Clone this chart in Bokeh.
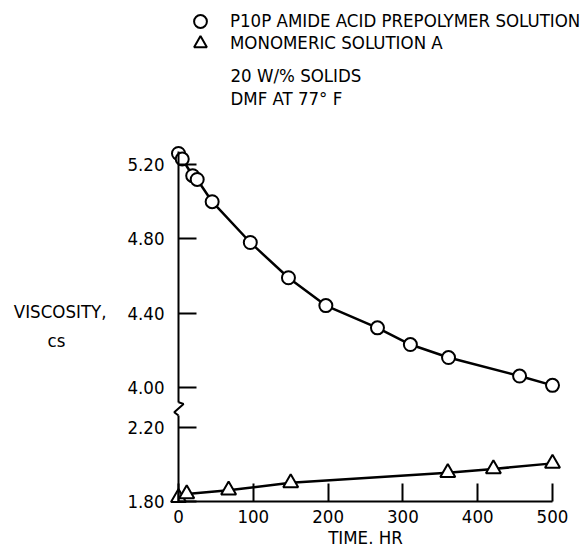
from bokeh.plotting import figure
from bokeh.models import LinearAxis, FixedTicker, Range1d, Legend, LegendItem, Label
from bokeh.embed import file_html
from bokeh.resources import INLINE

# ---------------- data ----------------
TIME_P10P = [0, 5, 19, 25, 45, 96, 147, 197, 266, 310, 361, 456, 500]
VISC_P10P = [5.26, 5.23, 5.14, 5.12, 5.00, 4.78, 4.59, 4.44, 4.32, 4.23, 4.16, 4.06, 4.01]
TIME_MONO = [0, 11, 67, 150, 360, 421, 500]
VISC_MONO = [1.82, 1.84, 1.86, 1.90, 1.955, 1.975, 2.005]

X_TICKS = [0, 100, 200, 300, 400, 500]
Y_TICKS_UPPER = [4.00, 4.40, 4.80, 5.20]
Y_TICKS_LOWER = [1.80, 2.20]
SERIES_LABELS = ["P10P AMIDE ACID PREPOLYMER SOLUTION", "MONOMERIC SOLUTION A"]
NOTES = ["20 W/% SOLIDS", "DMF AT 77\u00b0 F"]
Y_TITLE = ["VISCOSITY,", "cs"]
X_TITLE = "TIME. HR"

# ---------------- layout ----------------
W, H = 582, 547
PAGE = 0
X0_PX, PX_PER_HR = 178.0, 0.748
Y4_PX, PX_PER_CS = 386.7, 185.5
GAP_PX = 40.0
BREAK_OFFSET = (4.0 - GAP_PX / PX_PER_CS) - 2.20
FONT = "DejaVu Sans Condensed"
FS = "18.5px"


def x_of(px):
    return (px - X0_PX) / PX_PER_HR


def y_of(py):
    return 4.0 + (Y4_PX - py) / PX_PER_CS


p = figure(width=W, height=H, output_backend="svg", toolbar_location=None,
           x_range=Range1d(x_of(PAGE), x_of(PAGE + W)),
           y_range=Range1d(y_of(PAGE + H), y_of(PAGE)),
           x_axis_type=None, y_axis_type=None, min_border=0)
p.outline_line_color = None
p.background_fill_color = "white"

low_base = Y_TICKS_LOWER[0] + BREAK_OFFSET


def style_axis(ax):
    ax.axis_line_width = 2
    ax.axis_line_color = "black"
    ax.major_tick_line_width = 2
    ax.major_tick_line_color = "black"
    ax.major_tick_in = 18
    ax.major_tick_out = 0
    ax.minor_tick_line_color = None
    ax.major_label_text_font = FONT
    ax.major_label_text_font_size = FS
    ax.major_label_text_color = "black"


# x axis
xaxis = LinearAxis(fixed_location=low_base, bounds=(X_TICKS[0], X_TICKS[-1]),
                   ticker=FixedTicker(ticks=X_TICKS),
                   major_label_overrides={t: str(t) for t in X_TICKS},
                   axis_label=X_TITLE)
style_axis(xaxis)
xaxis.major_label_standoff = 9
xaxis.axis_label_text_font = FONT
xaxis.axis_label_text_font_size = FS
xaxis.axis_label_text_font_style = "normal"
xaxis.axis_label_text_color = "black"
xaxis.axis_label_standoff = 0
p.add_layout(xaxis, "below")

# upper y axis
break_top = 3.919
break_bot = 3.847
yax_up = LinearAxis(fixed_location=0, bounds=(break_top, 5.27),
                    ticker=FixedTicker(ticks=Y_TICKS_UPPER),
                    major_label_overrides={t: f"{t:.2f}" for t in Y_TICKS_UPPER})
style_axis(yax_up)
yax_up.major_label_standoff = 14
p.add_layout(yax_up, "left")

low_ticks = [t + BREAK_OFFSET for t in Y_TICKS_LOWER]
yax_lo = LinearAxis(fixed_location=0, bounds=(low_base, break_bot),
                    ticker=FixedTicker(ticks=low_ticks),
                    major_label_overrides={d: f"{t:.2f}" for d, t in zip(low_ticks, Y_TICKS_LOWER)})
style_axis(yax_lo)
yax_lo.major_label_standoff = 14
p.add_layout(yax_lo, "left")

# axis break zigzag
p.line([0, 6.8, -5.7, 0], [break_top, 3.910, 3.865, break_bot], line_color="black", line_width=2)

# series
p.line(TIME_P10P, VISC_P10P, line_color="black", line_width=2.5)
r_circ = p.scatter(TIME_P10P, VISC_P10P, marker="circle", size=13, fill_color="white",
                   line_color="black", line_width=2)
mono_disp = [v + BREAK_OFFSET for v in VISC_MONO]
p.line(TIME_MONO, mono_disp, line_color="black", line_width=2.5)
r_tri = p.scatter(TIME_MONO, mono_disp, marker="triangle", size=15, fill_color="white",
                  line_color="black", line_width=2)

# legend: one box per series so the rows can sit closer than the glyph box
GW = 32
for label, rend, row_cy in zip(SERIES_LABELS, [r_circ, r_tri], [20.5, 42.5]):
    lg = Legend(items=[LegendItem(label=label, renderers=[rend])],
                location=(200 - GW / 2, H - (row_cy + GW / 2)),
                border_line_color=None, background_fill_alpha=0,
                padding=0, margin=0, spacing=0, glyph_width=GW, glyph_height=GW,
                label_standoff=14, label_text_font=FONT, label_text_font_size=FS,
                label_height=20, label_text_color="black")
    p.add_layout(lg)

for txt, py in zip(NOTES, [75, 97.5]):
    p.add_layout(Label(x=x_of(230), y=y_of(py), text=txt, text_font=FONT, text_font_size=FS,
                       text_baseline="middle", text_align="left", text_color="black"))

p.add_layout(Label(x=x_of(106), y=y_of(311), text=Y_TITLE[0], text_font=FONT, text_font_size=FS,
                   text_baseline="middle", text_align="right", text_color="black"))
p.add_layout(Label(x=x_of(56), y=y_of(340), text=Y_TITLE[1], text_font=FONT, text_font_size=FS,
                   text_baseline="middle", text_align="center", text_color="black"))

open("out.html", "w").write(file_html(p, INLINE))
